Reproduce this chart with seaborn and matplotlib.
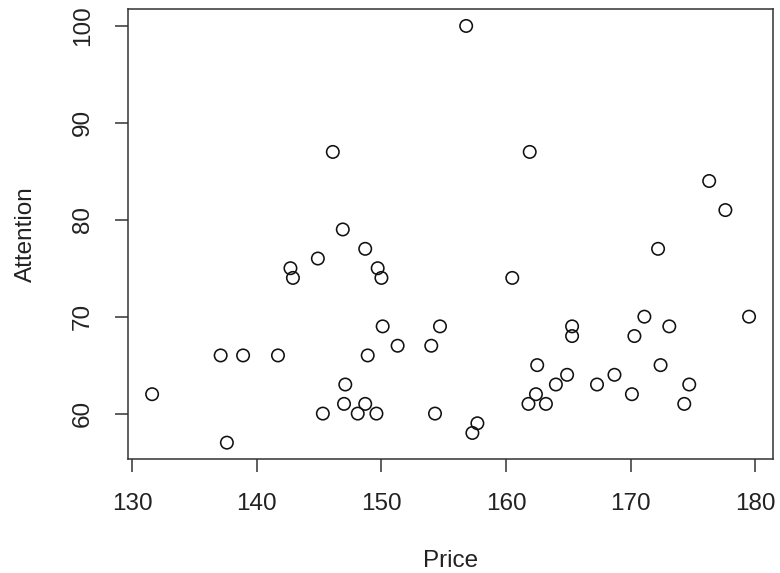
import matplotlib
import pandas as pd

matplotlib.use("Agg")
import matplotlib.pyplot as plt
import seaborn as sns

# values
price = [131.6, 137.1, 137.6, 138.9, 141.7, 142.7, 142.9, 144.9, 145.3, 146.1,
         146.9, 147.0, 147.1, 148.1, 148.7, 148.7, 148.9, 149.6, 149.7, 150.0,
         150.1, 151.3, 154.0, 154.3, 154.7, 156.8, 157.3, 157.7, 160.5, 161.8,
         161.9, 162.4, 162.5, 163.2, 164.0, 164.9, 165.3, 165.3, 167.3, 168.7,
         170.1, 170.3, 171.1, 172.2, 172.4, 173.1, 174.3, 174.7, 176.3, 177.6,
         179.5]
attention = [62, 66, 57, 66, 66, 75, 74, 76, 60, 87,
             79, 61, 63, 60, 77, 61, 66, 60, 75, 74,
             69, 67, 67, 60, 69, 100, 58, 59, 74, 61,
             87, 62, 65, 61, 63, 64, 69, 68, 63, 64,
             62, 68, 70, 77, 65, 69, 61, 63, 84, 81,
             70]
x_ticks = [130, 140, 150, 160, 170, 180]
y_ticks = [60, 70, 80, 90, 100]

df = pd.DataFrame({"Price": price, "Attention": attention})

sns.set_style("ticks")
plt.rcParams["font.family"] = ["Liberation Sans", "DejaVu Sans"]

fig, ax = plt.subplots(figsize=(7.8, 5.73), dpi=100)
fig.subplots_adjust(left=0.1637, right=0.991, bottom=0.1984, top=0.9838)

sns.scatterplot(data=df, x="Price", y="Attention", ax=ax, marker="o",
                s=80, facecolor="none", edgecolor="#111111", linewidth=1.15)

ax.set_xlim(129.64, 181.42)
ax.set_ylim(55.28, 101.72)
ax.set_xticks(x_ticks)
ax.set_yticks(y_ticks)

for sp in ax.spines.values():
    sp.set_visible(True)
    sp.set_linewidth(1.1)
    sp.set_color("#333333")

ax.tick_params(axis="both", length=9.4, width=1.1, color="#333333",
               pad=15, labelsize=17.5, labelcolor="#222222")
for lab in ax.get_yticklabels():
    lab.set_rotation(90)
    lab.set_va("center")

ax.set_xlabel("Price", fontsize=17.5, color="#222222", labelpad=25)
ax.set_ylabel("Attention", fontsize=17.5, color="#222222", labelpad=25)

fig.savefig("out.png", dpi=100)
plt.close(fig)
